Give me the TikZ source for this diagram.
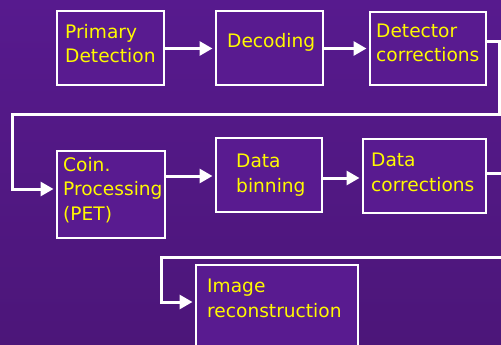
\documentclass[tikz,border=0pt]{standalone}
\usepackage{fontspec}
\setmainfont{DejaVu Sans}
\usetikzlibrary{arrows.meta}

\definecolor{fond}{RGB}{87,26,142}
\definecolor{fondbas}{RGB}{76,22,121}
\definecolor{boite}{RGB}{89,27,144}
\definecolor{jaune}{RGB}{255,250,0}

\tikzset{
  bloc/.style={draw=white, line width=2pt, fill=boite, inner sep=0pt},
  % ancre sur la ligne de base de la derniere ligne
  texte/.style={text=jaune, align=left, anchor=base west, inner sep=0pt,
    font=\fontsize{18.6}{24.5}\selectfont},
  fleche/.style={draw=white, line width=3pt, -{Triangle[length=13pt,width=14pt]}, shorten >=2pt}
}

\begin{document}
\begin{tikzpicture}[x=1pt,y=-1pt]
  % Fond
\useasboundingbox (0,0) rectangle (501,345);
\shade[top color=fond, bottom color=fondbas] (0,0) rectangle (501,345);
\clip (0,0) rectangle (501,345);
  % Boites
\node[bloc, minimum width=107pt, minimum height=74pt] (pd) at (110,48.5) {};
\node[bloc, minimum width=107pt, minimum height=74pt] (dec) at (269,48.5) {};
\node[bloc, minimum width=116pt, minimum height=73pt] (det) at (427.5,49) {};
\node[bloc, minimum width=108pt, minimum height=87pt] (coin) at (110.5,194) {};
\node[bloc, minimum width=106pt, minimum height=74pt] (bin) at (268.5,174.5) {};
\node[bloc, minimum width=123pt, minimum height=74pt] (dc) at (424,175.5) {};
\node[bloc, minimum width=162pt, minimum height=105pt] (img) at (276.5,317) {};
  % Textes
\node[texte] (tpd) at (65,63) {Primary\\Detection};
\node[texte] (tdec) at (227,48) {Decoding};
\node[texte] (tdet) at (376,62) {Detector\\corrections};
\node[texte] (tcoin) at (63,220) {Coin.\\Processing\\(PET)};
\node[texte] (tbin) at (236,192) {Data\\binning};
\node[texte] (tdc) at (371,191) {Data\\corrections};
\node[texte] (timg) at (207,317) {Image\\reconstruction};
  % Fleches
\draw[fleche] (pd.east) -- (dec.west);
\draw[fleche] (dec.east) -- (det.west |- dec.east);
\draw[fleche] ([yshift=18pt]coin.east) -- ([yshift=18pt]coin.east -| bin.west);
\draw[fleche] ([yshift=-3.5pt]bin.east) -- ([yshift=-3.5pt]bin.east -| dc.west);
  % Retours a la ligne
\coordinate (c1) at (499.5,42);
\coordinate (c2) at (499.5,114);
\coordinate (c3) at (12,114);
\coordinate (c4) at (12,189);
\draw[fleche] (det.east |- c1) -- (c1) -- (c2) -- (c3) -- (c4) -- (coin.west |- c4);
\coordinate (c5) at (515,173);
\coordinate (c6) at (515,257);
\coordinate (c7) at (161,257);
\coordinate (c8) at (161,302);
\draw[fleche] (dc.east |- c5) -- (c5) -- (c6) -- (c7) -- (c8) -- (img.west |- c8);
\end{tikzpicture}
\end{document}
